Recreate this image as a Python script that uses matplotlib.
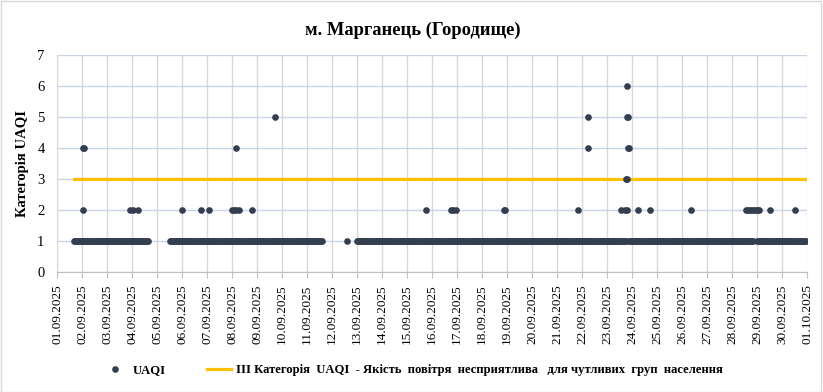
import numpy as np
import pandas as pd
import matplotlib
matplotlib.use("Agg")
import matplotlib.pyplot as plt
import matplotlib.dates as mdates
from matplotlib.patches import Rectangle

plt.rcParams['font.family'] = ['Liberation Serif', 'DejaVu Serif']

# hourly runs where UAQI category == 1 (start, end)
runs_1 = [
    ("2025-09-01 16:00", "2025-09-04 15:00"),
    ("2025-09-05 12:00", "2025-09-11 14:00"),
    ("2025-09-12 14:00", "2025-09-12 14:00"),
    ("2025-09-13 00:00", "2025-09-23 18:00"),
    ("2025-09-23 21:00", "2025-09-28 20:00"),
    ("2025-09-29 00:00", "2025-09-30 23:00"),
]

# hours with category above 1
cat2_times = [
    "2025-09-02 01:00", "2025-09-03 22:00", "2025-09-04 01:00", "2025-09-04 06:00",
    "2025-09-06 00:00", "2025-09-06 18:00", "2025-09-07 02:00",
    "2025-09-08 00:00", "2025-09-08 02:00", "2025-09-08 04:00", "2025-09-08 07:00",
    "2025-09-08 19:00", "2025-09-15 18:00", "2025-09-16 18:00", "2025-09-16 20:00",
    "2025-09-16 23:00", "2025-09-18 21:00", "2025-09-18 22:00", "2025-09-21 20:00",
    "2025-09-23 13:00", "2025-09-23 17:00", "2025-09-23 19:00",
    "2025-09-24 06:00", "2025-09-24 17:00", "2025-09-26 09:00",
    "2025-09-28 13:00", "2025-09-28 15:00", "2025-09-28 17:00", "2025-09-28 19:00",
    "2025-09-28 21:00", "2025-09-28 23:00", "2025-09-29 01:00", "2025-09-29 02:00",
    "2025-09-29 12:00", "2025-09-30 12:00",
]
cat3_times = ["2025-09-23 18:00", "2025-09-23 19:00"]
cat4_times = ["2025-09-02 01:00", "2025-09-02 02:00", "2025-09-08 04:00",
              "2025-09-22 06:00", "2025-09-23 20:00", "2025-09-23 21:00"]
cat5_times = ["2025-09-09 17:00", "2025-09-22 06:00", "2025-09-23 19:00", "2025-09-23 20:00"]
cat6_times = ["2025-09-23 19:00"]

threshold_start = "2025-09-01 16:00"
threshold_end = "2025-10-01 00:00"
threshold_value = 3

tick_dates = pd.date_range("2025-09-01", "2025-10-01", freq="D")

times = []
vals = []
for a, b in runs_1:
    rng = pd.date_range(a, b, freq="h")
    times += list(rng)
    vals += [1] * len(rng)
for lst, v in [(cat2_times, 2), (cat3_times, 3), (cat4_times, 4), (cat5_times, 5), (cat6_times, 6)]:
    times += list(pd.to_datetime(lst))
    vals += [v] * len(lst)

dot_color = '#333F50'
orange = '#FFC000'

fig = plt.figure(figsize=(8.23, 3.92), dpi=100)
ax = fig.add_axes([0.0693, 0.3061, 0.9113, 0.5536])

ax.plot(pd.to_datetime([threshold_start, threshold_end]), [threshold_value, threshold_value],
        color=orange, lw=2.3, zorder=2,
        label='ІІІ Категорія  UAQI  - Якість  повітря  несприятлива   для чутливих  груп  населення')
ax.plot(times, vals, 'o', color=dot_color, ms=4.8, mew=0, zorder=3, label='UAQI')

ax.set_xlim(tick_dates[0], tick_dates[-1])
ax.set_ylim(0, 7)
ax.set_yticks(range(0, 8))
ax.set_xticks(tick_dates)
ax.xaxis.set_major_formatter(mdates.DateFormatter('%d.%m.%Y'))
plt.setp(ax.get_xticklabels(), rotation=90, fontsize=9.5)
plt.setp(ax.get_yticklabels(), fontsize=10.5)
ax.tick_params(axis='x', length=4, color='#BFBFBF', pad=5)
ax.tick_params(axis='y', length=0, pad=9)

ax.grid(axis='y', color='#C9D3EA', lw=1, zorder=0)
ax.grid(axis='x', color='#D9D9D9', lw=1, zorder=0)
ax.set_axisbelow(True)
for s in ['top', 'right']:
    ax.spines[s].set_visible(False)
ax.spines['left'].set_color('#D9D9D9')
ax.spines['bottom'].set_color('#BFBFBF')

ax.set_ylabel('Категорія UAQI', fontsize=10.5, fontweight='bold', labelpad=6)
fig.text(0.501, 0.923, 'м. Марганець (Городище)', ha='center', va='center',
         fontsize=13.3, fontweight='bold')

h, l = ax.get_legend_handles_labels()
fig.legend(h[::-1], l[::-1], loc='center', bbox_to_anchor=(0.502, 0.056), ncol=2,
           frameon=False, prop={'weight': 'bold', 'size': 9.05}, handlelength=1.9,
           handletextpad=0.4, columnspacing=3.3)

fig.add_artist(Rectangle((0.001, 0.001), 0.997, 0.997, transform=fig.transFigure,
                         fill=False, edgecolor='#D9D9D9', lw=1))

fig.savefig('out.png', dpi=100)
